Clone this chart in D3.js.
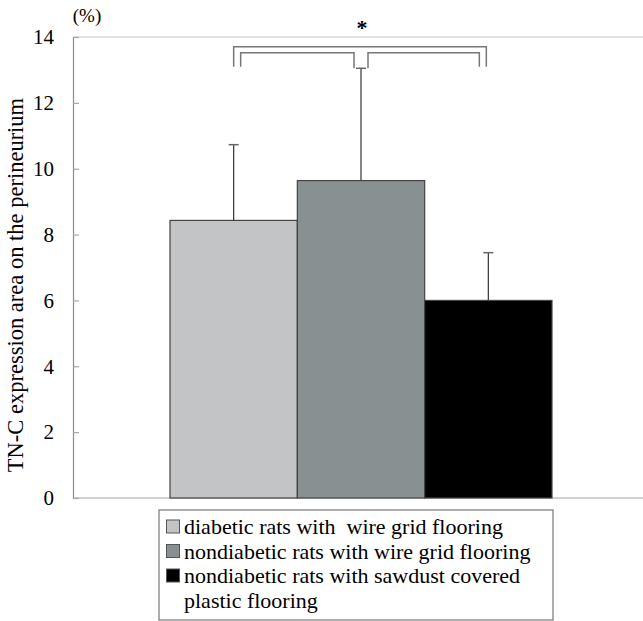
<!DOCTYPE html>
<html>
<head>
<meta charset="utf-8">
<script src="https://cdn.jsdelivr.net/npm/d3@7"></script>
<style>
  body { margin: 0; background: #fff; }
  svg { display: block; }
  text { font-family: 'Liberation Serif', 'DejaVu Serif', serif; white-space: pre; }
</style>
</head>
<body>
<svg id="chart" width="643" height="621"></svg>
<script>
const groups = ['diabetic rats with  wire grid flooring', 'nondiabetic rats with wire grid flooring', 'nondiabetic rats with sawdust covered plastic flooring'];
const means = [8.43, 9.64, 6.0];
const sds = [2.3, 3.41, 1.45];
const colors = ['#c3c4c6', '#899092', '#000000'];
const yTicks = [0, 2, 4, 6, 8, 10, 12, 14];
const legendLines = [['diabetic rats with  wire grid flooring'], ['nondiabetic rats with wire grid flooring'], ['nondiabetic rats with sawdust covered', 'plastic flooring']];

const svg = d3.select('#chart');
const plot = { left: 73, right: 643, top: 37, bottom: 498 };
const serif = "'Liberation Serif', 'DejaVu Serif', serif";

const x = d3.scaleBand()
  .domain(groups)
  .range([170, 552])
  .padding(0);

const y = d3.scaleLinear()
  .domain([0, 14])
  .range([plot.bottom, plot.top]);

// top frame line + bottom axis line
svg.append('line')
  .attr('x1', plot.left).attr('x2', plot.right)
  .attr('y1', plot.top).attr('y2', plot.top)
  .attr('stroke', '#d9d9d9').attr('stroke-width', 1.5);

svg.append('line')
  .attr('x1', plot.left).attr('x2', plot.right)
  .attr('y1', plot.bottom).attr('y2', plot.bottom)
  .attr('stroke', '#a6a6a6').attr('stroke-width', 1.2);

// y axis
const yAxis = d3.axisRight(y)
  .tickValues(yTicks)
  .tickSize(6)
  .tickFormat(() => '');

const gy = svg.append('g')
  .attr('transform', `translate(${plot.left},0)`)
  .call(yAxis);
gy.select('.domain').attr('stroke', '#8c8c8c').attr('stroke-width', 1.2);
gy.selectAll('.tick line').attr('stroke', '#a6a6a6').attr('stroke-width', 1.2);

svg.selectAll('.ylab')
  .data(yTicks)
  .enter()
  .append('text')
  .attr('class', 'ylab')
  .attr('x', 54)
  .attr('y', d => y(d))
  .attr('dy', '0.35em')
  .attr('text-anchor', 'end')
  .attr('font-family', serif)
  .attr('font-size', 21)
  .text(d => d);

svg.append('text')
  .attr('x', 87).attr('y', 22)
  .attr('text-anchor', 'middle')
  .attr('font-family', serif)
  .attr('font-size', 19)
  .text('(%)');

svg.append('text')
  .attr('transform', 'translate(23,285) rotate(-90)')
  .attr('text-anchor', 'middle')
  .attr('font-family', serif)
  .attr('font-size', 22.5)
  .text('TN-C expression area on the perineurium');

// error bars (upward only)
const err = svg.append('g');
groups.forEach((g, i) => {
  const c = x(g) + x.bandwidth() / 2;
  err.append('line')
    .attr('x1', c).attr('x2', c)
    .attr('y1', y(means[i])).attr('y2', y(means[i] + sds[i]))
    .attr('stroke', '#333').attr('stroke-width', 1.2);
  err.append('line')
    .attr('x1', c - 5).attr('x2', c + 5)
    .attr('y1', y(means[i] + sds[i])).attr('y2', y(means[i] + sds[i]))
    .attr('stroke', '#666').attr('stroke-width', 1.5);
});

// bars
svg.selectAll('.bar')
  .data(groups)
  .enter()
  .append('rect')
  .attr('class', 'bar')
  .attr('x', d => x(d))
  .attr('y', (d, i) => y(means[i]))
  .attr('width', x.bandwidth())
  .attr('height', (d, i) => y(0) - y(means[i]))
  .attr('fill', (d, i) => colors[i])
  .attr('stroke', '#444')
  .attr('stroke-width', 1.2);

// significance brackets
const cx = i => x(groups[i]) + x.bandwidth() / 2;
const br = svg.append('g')
  .attr('fill', 'none')
  .attr('stroke', '#777')
  .attr('stroke-width', 1.5);
const legY = 66.7;
br.append('path')
  .attr('d', `M${cx(0)},${legY}V46.7H${cx(2) - 2}V${legY}`);
br.append('path')
  .attr('d', `M${cx(0) + 7},${legY}V52.7H${cx(1) - 7}V${legY + 1.5}`);
br.append('path')
  .attr('d', `M${cx(1) + 7},${legY + 1.5}V52.7H${cx(2) - 9}V${legY}`);

svg.append('text')
  .attr('x', cx(1) + 1).attr('y', 35)
  .attr('text-anchor', 'middle')
  .attr('font-family', serif)
  .attr('font-size', 22)
  .attr('font-weight', 'bold')
  .text('*');

// legend
const lg = svg.append('g');
lg.append('rect')
  .attr('x', 159).attr('y', 510)
  .attr('width', 394).attr('height', 110)
  .attr('fill', '#fff')
  .attr('stroke', '#777')
  .attr('stroke-width', 1.2);

let row = 0;
legendLines.forEach((lines, i) => {
  lg.append('rect')
    .attr('x', 166.5).attr('y', 520 + row * 24.5)
    .attr('width', 13).attr('height', 13)
    .attr('fill', colors[i])
    .attr('stroke', '#555')
    .attr('stroke-width', 1);
  lines.forEach(t => {
    lg.append('text')
      .attr('x', 184).attr('y', 534 + row * 24.5)
      .attr('font-family', serif)
      .attr('font-size', 22)
      .text(t);
    row++;
  });
});
</script>
</body>
</html>
